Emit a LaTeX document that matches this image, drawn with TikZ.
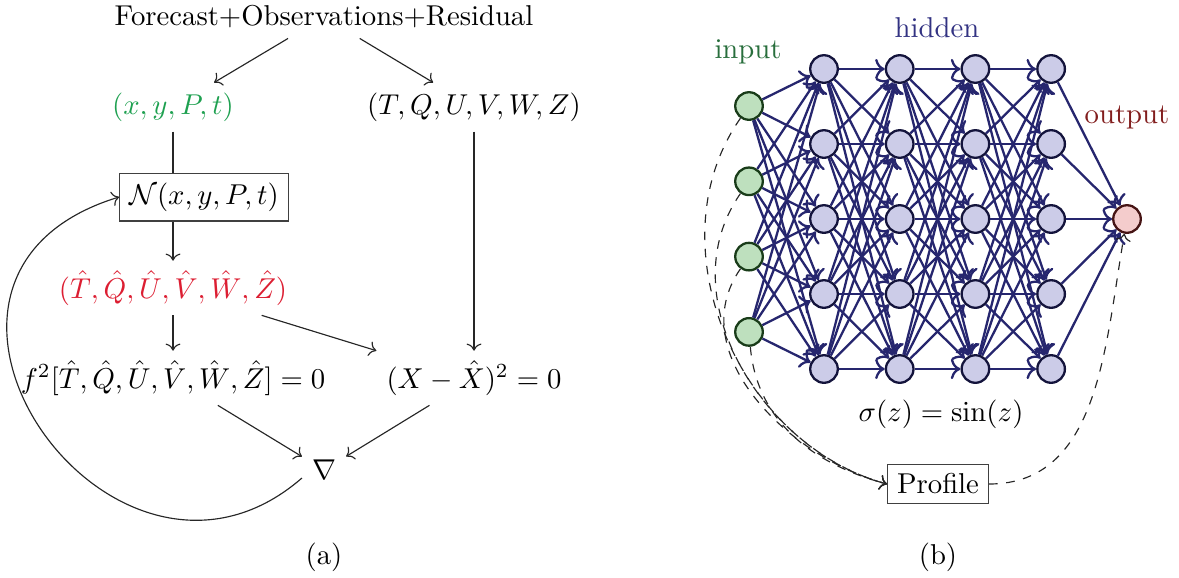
\documentclass[tikz,border=0pt]{standalone}
\usepackage{amsmath,amssymb,amsfonts}
\usepackage{tikz}
\usetikzlibrary{positioning,arrows.meta,calc}

\definecolor{vargreen}{RGB}{30,160,80}
\definecolor{varred}{RGB}{220,30,50}
\definecolor{netblue}{RGB}{38,38,110}
\definecolor{infill}{RGB}{190,224,190}
\definecolor{indraw}{RGB}{25,60,25}
\definecolor{hidfill}{RGB}{204,204,232}
\definecolor{hiddraw}{RGB}{20,20,60}
\definecolor{outfill}{RGB}{244,204,204}
\definecolor{outdraw}{RGB}{70,20,20}
\definecolor{intext}{RGB}{40,110,60}
\definecolor{hidtext}{RGB}{50,50,130}
\definecolor{outtext}{RGB}{130,30,30}

\begin{document}
\begin{tikzpicture}[
      x=0.3484pt, y=0.3484pt,
      arrow/.style={->, draw=black!85},
      box/.style={draw=black!75},
      conn/.style={->, thick, netblue},
      neuron/.style={circle, thick, minimum size=9.6pt, inner sep=0pt},
      innode/.style={neuron, fill=infill, draw=indraw},
      hidnode/.style={neuron, fill=hidfill, draw=hiddraw},
      outnode/.style={neuron, fill=outfill, draw=outdraw},
      feed/.style={->, dashed, black!85},
    ]
      \useasboundingbox (0,0) rectangle (1179,-577);

      % (a) training loop
      \node (fcst) at (324,-17) {Forecast+Observations+Residual};
      \node[vargreen] (xyPt) at (173,-107) {$(x,y,P,t)$};
      \node (obs) at (474,-107) {$(T,Q,U,V,W,Z)$};
      \node[box] (N) at (204,-197) {$\mathcal{N}(x,y,P,t)$};
      \node[varred] (pred) at (173,-288) {$(\hat{T},\hat{Q},\hat{U},\hat{V},\hat{W},\hat{Z})$};
      \node (pde) at (173,-378) {$f^2[\hat{T},\hat{Q},\hat{U},\hat{V},\hat{W},\hat{Z}]=0$};
      \node (mse) at (474,-378) {$(X-\hat{X})^2=0$};
      \node (nabla) at (324,-470) {$\nabla$};
      \node (capa) at (324,-557) {(a)};

      \draw[arrow] (fcst) -- (xyPt);
      \draw[arrow] (fcst) -- (obs);
      \draw[black!85] (xyPt) -- (xyPt |- N.north);
      \draw[arrow] (xyPt |- N.south) -- (pred);
      \draw[arrow] (pred) -- (pde);
      \draw[arrow] (pred) -- (mse.north west);
      \draw[arrow] (obs) -- (mse);
      \draw[arrow] (pde) -- (nabla);
      \draw[arrow] (mse) -- (nabla);
      \draw[arrow] (nabla.200) .. controls +(-190,-165) and +(-262,-80) .. (N.west);

      % (b) network
      \node[intext] (lblin) at (748,-52) {input};
      \node[hidtext] (lblhid) at (937,-28) {hidden};
      \node[outtext] (lblout) at (1127,-117) {output};

      \foreach \i in {1,...,4}
        \node[innode] (in-\i) at (749,{-106-75.3*(\i-1)}) {};
      \foreach \l in {1,...,4}
        \foreach \j in {1,...,5}
          \node[hidnode] (h\l-\j) at ({824+75.7*(\l-1)},{-69-75*(\j-1)}) {};
      \node[outnode] (outp) at (1127,-219) {};

      \foreach \i in {1,...,4}
        \foreach \j in {1,...,5}
          \draw[conn] (in-\i) -- (h1-\j);
      \foreach \l in {1,2,3}{
        \pgfmathtruncatemacro\m{\l+1}
        \foreach \j in {1,...,5}
          \foreach \k in {1,...,5}
            \draw[conn] (h\l-\j) -- (h\m-\k);
      }
      \foreach \j in {1,...,5}
        \draw[conn] (h4-\j) -- (outp);

      \node (act) at (941,-414) {$\sigma(z)=\sin(z)$};
      \node[box] (prof) at (938,-484) {Profile};
      \node (capb) at (938,-557) {(b)};

      \foreach \i/\a in {1/235,2/235,3/235,4/-85}
        \draw[feed] (in-\i) to[out=\a,in=165] (prof.west);
      \draw[feed] (prof) to[out=0,in=-100] (outp);
    \end{tikzpicture}
\end{document}
